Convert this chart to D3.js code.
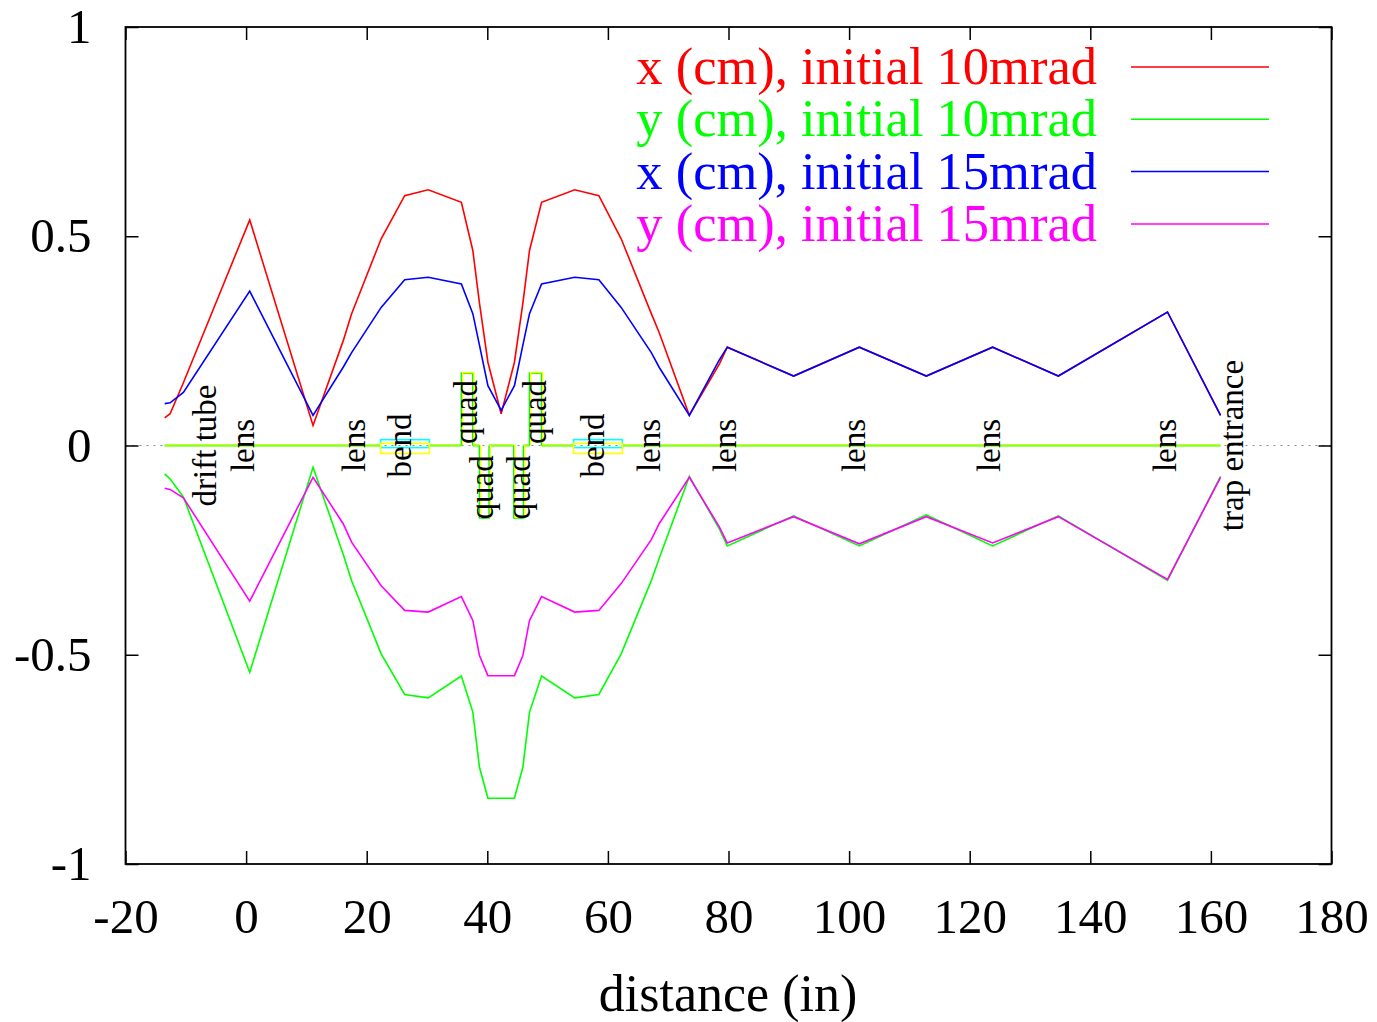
<!DOCTYPE html>
<html><head><meta charset="utf-8">
<script src="https://cdn.jsdelivr.net/npm/d3@7"></script>
<style>
html,body{margin:0;padding:0;background:#fff;}
text{font-family:"Liberation Serif","Times New Roman",serif;}
</style></head>
<body>
<svg id="chart" width="1377" height="1022"></svg>
<script>
// ---- data ----
const distance = [-13.5, -12.6, -10.4, 0.6, 11.1, 16.1, 17.5, 22.4, 26.3, 30.2, 35.7, 37.6, 38.7, 40.1, 42.3, 44.5, 45.9, 47.0, 49.0, 54.5, 58.5, 62.2, 67.2, 68.5, 73.5, 78.5, 79.8, 90.8, 101.7, 112.8, 123.8, 134.7, 152.8, 161.6];
const x10 = [0.066, 0.076, 0.15, 0.539, 0.048, 0.25, 0.315, 0.494, 0.597, 0.611, 0.581, 0.466, 0.34, 0.199, 0.076, 0.199, 0.34, 0.466, 0.581, 0.611, 0.597, 0.494, 0.315, 0.27, 0.072, 0.195, 0.235, 0.166, 0.235, 0.166, 0.235, 0.166, 0.319, 0.072];
const y10 = [-0.068, -0.080, -0.123, -0.542, -0.052, -0.26, -0.323, -0.498, -0.595, -0.603, -0.551, -0.637, -0.769, -0.843, -0.843, -0.843, -0.769, -0.637, -0.551, -0.603, -0.595, -0.498, -0.323, -0.27, -0.074, -0.20, -0.240, -0.168, -0.240, -0.166, -0.240, -0.168, -0.322, -0.074];
const x15 = [0.100, 0.102, 0.127, 0.369, 0.072, 0.187, 0.222, 0.330, 0.396, 0.402, 0.386, 0.315, 0.24, 0.143, 0.084, 0.143, 0.24, 0.315, 0.386, 0.402, 0.396, 0.330, 0.222, 0.187, 0.072, 0.205, 0.235, 0.166, 0.235, 0.166, 0.235, 0.166, 0.319, 0.072];
const y15 = [-0.102, -0.105, -0.125, -0.372, -0.076, -0.187, -0.231, -0.335, -0.394, -0.398, -0.361, -0.418, -0.502, -0.550, -0.550, -0.550, -0.502, -0.418, -0.361, -0.398, -0.394, -0.330, -0.225, -0.187, -0.076, -0.195, -0.233, -0.170, -0.235, -0.170, -0.233, -0.170, -0.320, -0.076];

const seriesNames = ["x (cm), initial 10mrad", "y (cm), initial 10mrad", "x (cm), initial 15mrad", "y (cm), initial 15mrad"];
const seriesColors = ["#ff0000", "#00ff00", "#0000ff", "#ff00ff"];
const seriesValues = [x10, y10, x15, y15];

// beamline elements
const beamStart = -13.5, beamEnd = 161.6;
const elemType = ["bend", "quad", "quad", "quad", "quad", "bend"];
const elemFrom = [22.3, 35.7, 38.7, 44.4, 47.0, 54.3];
const elemTo   = [30.4, 37.6, 40.3, 46.0, 49.0, 62.4];
const elemSide = [0, 1, -1, -1, 1, 0];

// element labels
const labelText = ["drift tube", "lens", "lens", "bend", "quad", "quad", "quad", "quad", "bend", "lens", "lens", "lens", "lens", "lens", "trap entrance"];
const labelX    = [-6.8, -0.5, 17.9, 25.6, 36.4, 39.2, 45.2, 47.9, 57.6, 66.8, 79.4, 100.8, 123.2, 152.4, 163.5];
const labelY    = [0, 0, 0, 0, 0.08, -0.10, -0.10, 0.08, 0, 0, 0, 0, 0, 0, 0];

const xTicks = [-20, 0, 20, 40, 60, 80, 100, 120, 140, 160, 180];
const yTicks = [-1, -0.5, 0, 0.5, 1];
const xTickLabels = ["-20", "0", "20", "40", "60", "80", "100", "120", "140", "160", "180"];
const yTickLabels = ["-1", "-0.5", "0", "0.5", "1"];
const xTitle = "distance (in)";

// ---- drawing ----
(function draw() {
const svg = d3.select("#chart");
const L = 125.5, R = 1331.5, T = 27, B = 864;
const x = d3.scaleLinear().domain([-20, 180]).range([L, R]);
const y = d3.scaleLinear().domain([-1, 1]).range([B, T]);
const FS = 49;

// zero dotted line
svg.append("line").attr("x1", L).attr("x2", R).attr("y1", y(0)).attr("y2", y(0))
  .attr("stroke", "#888").attr("stroke-width", 1.2).attr("stroke-dasharray", "2,5");

// beamline baseline segments between elements
const segs = [];
let cur = beamStart;
elemFrom.forEach((f, i) => { segs.push([cur, f]); cur = elemTo[i]; });
segs.push([cur, beamEnd]);
const bl = svg.append("g");
segs.forEach(s => {
  bl.append("line").attr("x1", x(s[0])).attr("x2", x(s[1])).attr("y1", y(0)).attr("y2", y(0))
    .attr("stroke", "#00ff00").attr("stroke-width", 2);
  bl.append("line").attr("x1", x(s[0])).attr("x2", x(s[1])).attr("y1", y(0)).attr("y2", y(0))
    .attr("stroke", "#ffff00").attr("stroke-width", 2).attr("stroke-opacity", 0.6);
});
const quadH = 0.173;
elemType.forEach((t, i) => {
  const a = x(elemFrom[i]), b = x(elemTo[i]);
  if (t === "quad") {
    const h = y(elemSide[i] * quadH), z = y(0);
    const p = `M${a},${z}L${a},${h}L${b},${h}L${b},${z}`;
    bl.append("path").attr("d", p).attr("fill", "none").attr("stroke", "#00ff00").attr("stroke-width", 1.6);
    bl.append("path").attr("d", p).attr("transform", "translate(1.2,-0.6)").attr("fill", "none").attr("stroke", "#ffff00").attr("stroke-width", 1.3);
  } else {
    bl.append("rect").attr("x", a).attr("width", b - a).attr("y", y(0.014)).attr("height", y(-0.005) - y(0.014))
      .attr("fill", "none").attr("stroke", "#00ffff").attr("stroke-width", 1.6);
    bl.append("rect").attr("x", a).attr("width", b - a).attr("y", y(0.005)).attr("height", y(-0.019) - y(0.005))
      .attr("fill", "none").attr("stroke", "#ffff00").attr("stroke-width", 1.6);
  }
});

// labels
labelText.forEach((t, i) => {
  const px = x(labelX[i]), py = y(labelY[i]);
  svg.append("text").attr("transform", `translate(${px},${py}) rotate(-90)`)
    .attr("text-anchor", "middle").attr("dominant-baseline", "central")
    .attr("font-size", 33).attr("fill", "#000").text(t);
});

// series lines
const line = d3.line().x(d => x(d[0])).y(d => y(d[1]));
seriesValues.forEach((vals, k) => {
  const pts = distance.map((d, i) => [d, vals[i]]);
  svg.append("path").attr("d", line(pts)).attr("fill", "none")
    .attr("stroke", seriesColors[k]).attr("stroke-width", 1.6).attr("stroke-linejoin", "miter");
});

// axes
const ax = svg.append("g").attr("class", "axes");
const axB = d3.axisBottom(x).tickValues(xTicks).tickSize(-13).tickPadding(34).tickFormat((d, i) => xTickLabels[i]);
const axL = d3.axisLeft(y).tickValues(yTicks).tickSize(-13).tickPadding(34).tickFormat((d, i) => yTickLabels[i]);
const axT = d3.axisTop(x).tickValues(xTicks).tickSize(-13).tickFormat("");
const axR = d3.axisRight(y).tickValues(yTicks).tickSize(-13).tickFormat("");
ax.append("g").attr("transform", `translate(0,${B})`).call(axB);
ax.append("g").attr("transform", `translate(${L},0)`).call(axL);
ax.append("g").attr("transform", `translate(0,${T})`).call(axT);
ax.append("g").attr("transform", `translate(${R},0)`).call(axR);
ax.selectAll(".domain").remove();
ax.selectAll(".tick line").attr("stroke", "#000").attr("stroke-width", 1.5);
ax.selectAll(".tick text").attr("font-size", FS).attr("font-family", "Liberation Serif").attr("fill", "#000");
svg.append("rect").attr("x", L).attr("y", T).attr("width", R - L).attr("height", B - T)
  .attr("fill", "none").attr("stroke", "#000").attr("stroke-width", 1.8);

// x title
svg.append("text").attr("x", 728).attr("y", 1011).attr("text-anchor", "middle")
  .attr("font-size", 52).attr("fill", "#000").text(xTitle);

// legend
seriesNames.forEach((n, k) => {
  const by = 84 + k * 52.3;
  svg.append("text").attr("x", 1097).attr("y", by).attr("text-anchor", "end")
    .attr("font-size", 52.5).attr("fill", seriesColors[k]).text(n);
  svg.append("line").attr("x1", 1131).attr("x2", 1269).attr("y1", by - 17).attr("y2", by - 17)
    .attr("stroke", seriesColors[k]).attr("stroke-width", 1.5);
});
})();
</script>
</body></html>
